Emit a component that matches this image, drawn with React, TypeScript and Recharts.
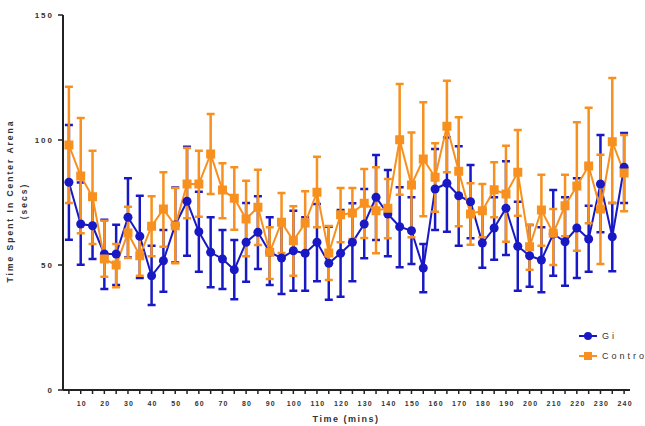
import React from 'react';
import {
  ComposedChart,
  Line,
  XAxis,
  YAxis,
  ErrorBar,
} from 'recharts';

const minutes = [
  5, 10, 15, 20, 25, 30, 35, 40, 45, 50, 55, 60,
  65, 70, 75, 80, 85, 90, 95, 100, 105, 110, 115, 120,
  125, 130, 135, 140, 145, 150, 155, 160, 165, 170, 175, 180,
  185, 190, 195, 200, 205, 210, 215, 220, 225, 230, 235, 240,
];

const giMean = [
  83.1, 66.4, 65.7, 54.4, 54.4, 69.1, 61.5, 45.7, 51.7, 66.0, 75.5, 63.3,
  55.1, 52.4, 48.1, 59.1, 63.1, 55.1, 52.8, 55.7, 54.7, 59.1, 50.7, 54.7,
  59.1, 66.4, 77.1, 70.4, 65.3, 63.7, 48.8, 80.4, 82.7, 77.7, 75.3, 58.8,
  64.8, 72.7, 57.5, 53.7, 52.0, 62.4, 59.3, 64.8, 60.4, 82.4, 61.3, 89.1,
];
const giUpper = [
  106, 83, 77, 68.1, 66.1, 84.7, 77.7, 57.7, 64, 81, 97.3, 79.3,
  69.1, 64, 60, 74.8, 77.5, 69.1, 67.3, 71.7, 69.1, 74.4, 65.3, 72,
  74.7, 80.4, 94, 88, 81.1, 77.1, 58.4, 96.4, 101, 97.5, 90, 72,
  77.1, 91.5, 75.3, 66, 65.1, 80, 77.1, 84.7, 73.7, 102, 74.8, 102.8,
];
const giLower = [
  60.1, 50.1, 52.4, 40.4, 42, 53, 44.8, 34, 39.3, 51, 53.7, 47.3,
  41.1, 40.4, 36.3, 43.3, 48.4, 42, 38.4, 39.7, 39.7, 43.5, 36.1, 37.3,
  43.5, 52.7, 60, 53.5, 49.1, 50.4, 39.1, 64, 63.3, 57.7, 60.7, 48.9,
  52.1, 54, 39.7, 41.3, 39.1, 45.7, 41.7, 44.8, 47.3, 63.1, 47.5, 74.8,
];

const ctlMean = [
  98, 85.6, 77.3, 52.4, 50, 62.8, 53.7, 65.5, 72.4, 65.7, 82.4, 82.4,
  94.4, 80, 76.7, 68.4, 73.1, 55.1, 67.1, 59.7, 66.8, 79.1, 54.8, 70.1,
  70.8, 74.7, 71.7, 72.7, 100.1, 82, 92.4, 85.1, 105.5, 87.5, 70.4, 71.7,
  80.1, 78.4, 87.1, 57.3, 72, 62.7, 73.7, 81.6, 89.6, 72.4, 99.3, 86.8,
];
const ctlUpper = [
  121.3, 108.8, 95.7, 67.7, 58.4, 73.3, 61, 77.5, 87.1, 80.8, 96.8, 95.7,
  110.4, 90.7, 89.1, 83.7, 88.1, 65.1, 78.8, 73.5, 79.5, 93.3, 65.6, 80.8,
  80.8, 88.4, 89.1, 84.4, 122.4, 103, 115.1, 98.7, 123.7, 109.1, 82.7, 82.4,
  91.1, 97.7, 104, 66.1, 86.1, 72.4, 86.1, 107.1, 112.9, 94.1, 124.8, 102,
];
const ctlLower = [
  74.8, 62.7, 58.4, 45.3, 41.1, 52.8, 45.7, 53.5, 57.3, 50.7, 68.7, 69.3,
  78.4, 68.7, 64.1, 53.5, 58, 44.4, 54.8, 45.7, 54, 65.1, 44, 59.1,
  60.4, 60.8, 54.7, 60.7, 78.1, 61.1, 69.5, 71.3, 87.1, 65.5, 58.1, 61.1,
  69.1, 59.3, 69.7, 48.1, 57.7, 50, 61.5, 55.7, 66.7, 50.4, 74.8, 71.5,
];

const yTicks = [0, 50, 100, 150];
const seriesNames = ['Gi', 'Contro'];

const BLUE = '#1818c4';
const ORANGE = '#f7901e';
const FONT = '"Liberation Sans", Arial, sans-serif';

const data = minutes.map((m, i) => ({
  t: m,
  gi: giMean[i],
  giErr: [giMean[i] - giLower[i], giUpper[i] - giMean[i]],
  ctl: ctlMean[i],
  ctlErr: [ctlMean[i] - ctlLower[i], ctlUpper[i] - ctlMean[i]],
}));

const XTick = ({ x, y, payload }: any) => {
  if (payload.value % 10 !== 0) return <g />;
  return (
    <text
      x={x + 1}
      y={y + 10}
      textAnchor="middle"
      fontFamily={FONT}
      fontWeight="bold"
      fontSize={7}
      fill="#333"
      style={{ letterSpacing: '1.2px' }}
    >
      {payload.value}
    </text>
  );
};

const YTick = ({ x, y, payload }: any) => (
  <text
    x={x - 2}
    y={y + 3}
    textAnchor="end"
    fontFamily={FONT}
    fontWeight="bold"
    fontSize={8}
    fill="#333"
    style={{ letterSpacing: '2px' }}
  >
    {payload.value}
  </text>
);

const SquareDot = ({ cx, cy, index }: any) => (
  <rect key={'sq' + index} x={cx - 4.5} y={cy - 4.5} width={9} height={9} fill={ORANGE} />
);

function ChartLegend() {
  return (
    <div
      style={{
        position: 'absolute',
        left: 578,
        top: 326,
        fontFamily: FONT,
        fontSize: 9,
        color: '#333',
        letterSpacing: '3px',
      }}
    >
      {seriesNames.map((name, i) => {
        const color = i === 0 ? BLUE : ORANGE;
        return (
          <div key={name} style={{ display: 'flex', alignItems: 'center', height: 20, whiteSpace: 'nowrap' }}>
            <svg width={20} height={10} style={{ marginRight: 4 }}>
              <line x1={1} y1={5} x2={19} y2={5} stroke={color} strokeWidth={2} />
              {i === 1 ? (
                <rect x={6} y={1} width={8} height={8} fill={color} />
              ) : (
                <circle cx={10} cy={5} r={4} fill={color} />
              )}
            </svg>
            <span>{name}</span>
          </div>
        );
      })}
    </div>
  );
}

export default function App() {
  return (
    <div style={{ position: 'absolute', left: 0, top: 0, width: 645, height: 426, overflow: 'hidden', background: '#fff' }}>
      <ComposedChart
        width={645}
        height={426}
        data={data}
        margin={{ top: 15, right: 15, left: 7, bottom: 0 }}
      >
        <XAxis
          dataKey="t"
          type="number"
          domain={[2.5, 242.5]}
          ticks={minutes}
          interval={0}
          tick={<XTick />}
          tickSize={4}
          tickLine={{ stroke: '#222', strokeWidth: 1.5 }}
          axisLine={{ stroke: '#222', strokeWidth: 2 }}
          height={36}
          label={{
            content: () => (
              <text
                x={346}
                y={422}
                textAnchor="middle"
                fontFamily={FONT}
                fontWeight="bold"
                fontSize={9}
                fill="#333"
                style={{ letterSpacing: '1.5px' }}
              >
                Time (mins)
              </text>
            ),
          }}
        />
        <YAxis
          type="number"
          domain={[0, 150]}
          ticks={yTicks}
          width={56}
          tick={<YTick />}
          tickSize={5}
          tickLine={{ stroke: '#222', strokeWidth: 1.5 }}
          axisLine={{ stroke: '#222', strokeWidth: 2 }}
          label={{
            content: () => (
              <g fontFamily={FONT} fontWeight="bold" fontSize={8.5} fill="#333" style={{ letterSpacing: '2px' }}>
                <text x={13} y={201} textAnchor="middle" transform="rotate(-90 13 201)">
                  Time Spent In Center Arena
                </text>
                <text x={27} y={201} textAnchor="middle" transform="rotate(-90 27 201)">
                  (secs)
                </text>
              </g>
            ),
          }}
        />
        <Line
          dataKey="gi"
          stroke={BLUE}
          strokeWidth={2}
          dot={{ r: 4.5, fill: BLUE, stroke: BLUE, strokeWidth: 0 }}
          activeDot={false}
          isAnimationActive={false}
        >
          <ErrorBar dataKey="giErr" width={4} strokeWidth={2.5} stroke={BLUE} direction="y" />
        </Line>
        <Line
          dataKey="ctl"
          stroke={ORANGE}
          strokeWidth={2}
          dot={<SquareDot />}
          activeDot={false}
          isAnimationActive={false}
        >
          <ErrorBar dataKey="ctlErr" width={4} strokeWidth={2.5} stroke={ORANGE} direction="y" />
        </Line>
      </ComposedChart>
      <ChartLegend />
    </div>
  );
}
